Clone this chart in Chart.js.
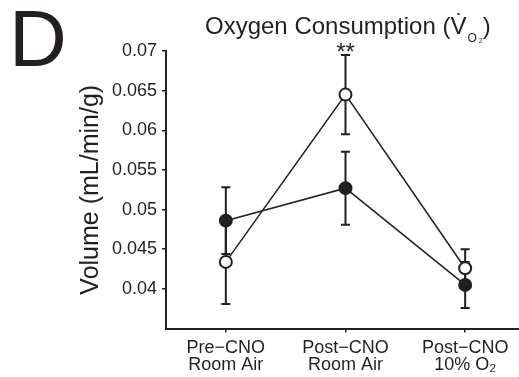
<!DOCTYPE html>
<html>
<head>
<meta charset="utf-8">
<script src="https://cdn.jsdelivr.net/npm/chart.js@4.4.1/dist/chart.umd.min.js"></script>
<style>
  html, body { margin: 0; padding: 0; background: #fff; }
  #wrap { position: relative; width: 519px; height: 377px; overflow: hidden;
          font-family: "Liberation Sans", Arial, sans-serif; color: #231f20; }
  #chart { position: absolute; left: 0; top: 0; }
  #panel { position: absolute; left: 9px; top: -1px; font-size: 80px; line-height: 80px; }
  #title { position: absolute; left: 205px; top: 14px; font-size: 24px; line-height: 24px; white-space: nowrap; }
  .sub { font-size: 12px; position: relative; top: 8px; margin-left: 1px; }
  .sub2 { font-size: 7px; position: relative; top: 1px; margin-left: 2px; }
</style>
</head>
<body>
<div id="wrap">
  <canvas id="chart" width="519" height="377"></canvas>
  <div id="panel">D</div>
  <div id="title">Oxygen Consumption (V&#775;<span class="sub">O<span class="sub2">2</span></span>)</div>
</div>
<script>
// conditions along the x axis (one entry per tick, lines stacked)
const categories = [
    ["Pre\u2212CNO", "Room Air"],
    ["Post\u2212CNO", "Room Air"],
    ["Post\u2212CNO", "10% O\u2082"]
];

// open circles
const openMeans = [0.0434, 0.0645, 0.0426];
const openErr   = [0.0053, 0.0050, 0.0024];

// filled circles
const filledMeans = [0.0486, 0.0527, 0.0405];
const filledErr   = [0.0042, 0.0046, 0.0029];

// significance marks above each condition
const significance = ["", "**", ""];

const ink = "#231f20";
const yMin = 0.035;

Chart.defaults.font.family = '"Liberation Sans", Arial, sans-serif';
Chart.defaults.color = ink;

/* ==============================
   ERROR BARS + SIGNIFICANCE
============================== */

const errorBars = {
    id: "errorBars",
    beforeDatasetsDraw(chart) {
        const { ctx, scales: { x, y } } = chart;
        ctx.save();
        ctx.strokeStyle = ink;
        ctx.lineWidth = 2;
        chart.data.datasets.forEach(ds => {
            ds.data.forEach((p, i) => {
                const px = x.getPixelForValue(p.x);
                const top = y.getPixelForValue(p.y + ds.errors[i]);
                const bot = y.getPixelForValue(p.y - ds.errors[i]);
                ctx.beginPath();
                ctx.moveTo(px, top); ctx.lineTo(px, bot);
                ctx.moveTo(px - 4.5, top); ctx.lineTo(px + 4.5, top);
                ctx.moveTo(px - 4.5, bot); ctx.lineTo(px + 4.5, bot);
                ctx.stroke();
            });
        });
        ctx.restore();
    },
    afterDatasetsDraw(chart) {
        const { ctx, scales: { x, y } } = chart;
        ctx.save();
        ctx.fillStyle = ink;
        ctx.font = '24px "Liberation Sans", Arial, sans-serif';
        ctx.textAlign = "center";
        ctx.textBaseline = "alphabetic";
        significance.forEach((s, i) => {
            if (!s) return;
            let top = -Infinity;
            chart.data.datasets.forEach(ds => {
                top = Math.max(top, ds.data[i].y + ds.errors[i]);
            });
            ctx.fillText(s, x.getPixelForValue(i), y.getPixelForValue(top) + 5);
        });
        ctx.restore();
    }
};

/* ==============================
   DRAW CHART
============================== */

const toPoints = arr => arr.map((v, i) => ({ x: i, y: v }));

new Chart(document.getElementById("chart"), {
    type: "line",
    data: {
        datasets: [
            {
                label: "open",
                data: toPoints(openMeans),
                errors: openErr,
                borderColor: ink,
                borderWidth: 1.5,
                pointRadius: 6,
                pointBorderWidth: 2,
                pointBorderColor: ink,
                pointBackgroundColor: "#ffffff"
            },
            {
                label: "filled",
                data: toPoints(filledMeans),
                errors: filledErr,
                borderColor: ink,
                borderWidth: 1.5,
                pointRadius: 6,
                pointBorderWidth: 2,
                pointBorderColor: ink,
                pointBackgroundColor: ink
            }
        ]
    },
    options: {
        responsive: false,
        animation: false,
        devicePixelRatio: 1,
        layout: { autoPadding: false, padding: { top: 51, right: 0, bottom: 0, left: 0 } },
        plugins: {
            legend: { display: false },
            tooltip: { enabled: false }
        },
        scales: {
            x: {
                type: "linear",
                min: -0.5,
                max: 2.45,
                afterBuildTicks(scale) {
                    scale.ticks = categories.map((c, i) => ({ value: i }));
                },
                afterFit(scale) { scale.height = 48.5; },
                border: { color: ink, width: 2 },
                grid: { drawOnChartArea: false, tickLength: 4, lineWidth: 1.5, color: ink },
                ticks: {
                    padding: 7,
                    maxRotation: 0,
                    autoSkip: false,
                    font: { size: 18, lineHeight: 0.93 },
                    callback: v => categories[v]
                }
            },
            y: {
                min: yMin,
                max: 0.07,
                afterFit(scale) { scale.width = 166; },
                border: { color: ink, width: 2 },
                grid: {
                    drawOnChartArea: false,
                    tickLength: 4,
                    lineWidth: 1.5,
                    color: c => (c.tick && Math.abs(c.tick.value - yMin) < 1e-9) ? "rgba(0,0,0,0)" : ink
                },
                ticks: {
                    stepSize: 0.005,
                    padding: 5,
                    font: { size: 18 },
                    callback: v => Math.abs(v - yMin) < 1e-9 ? "" : String(+v.toFixed(3))
                },
                title: {
                    display: true,
                    text: "Volume (mL/min/g)",
                    font: { size: 25 },
                    padding: { top: 76, bottom: 0 }
                }
            }
        }
    },
    plugins: [errorBars]
});
</script>
</body>
</html>
